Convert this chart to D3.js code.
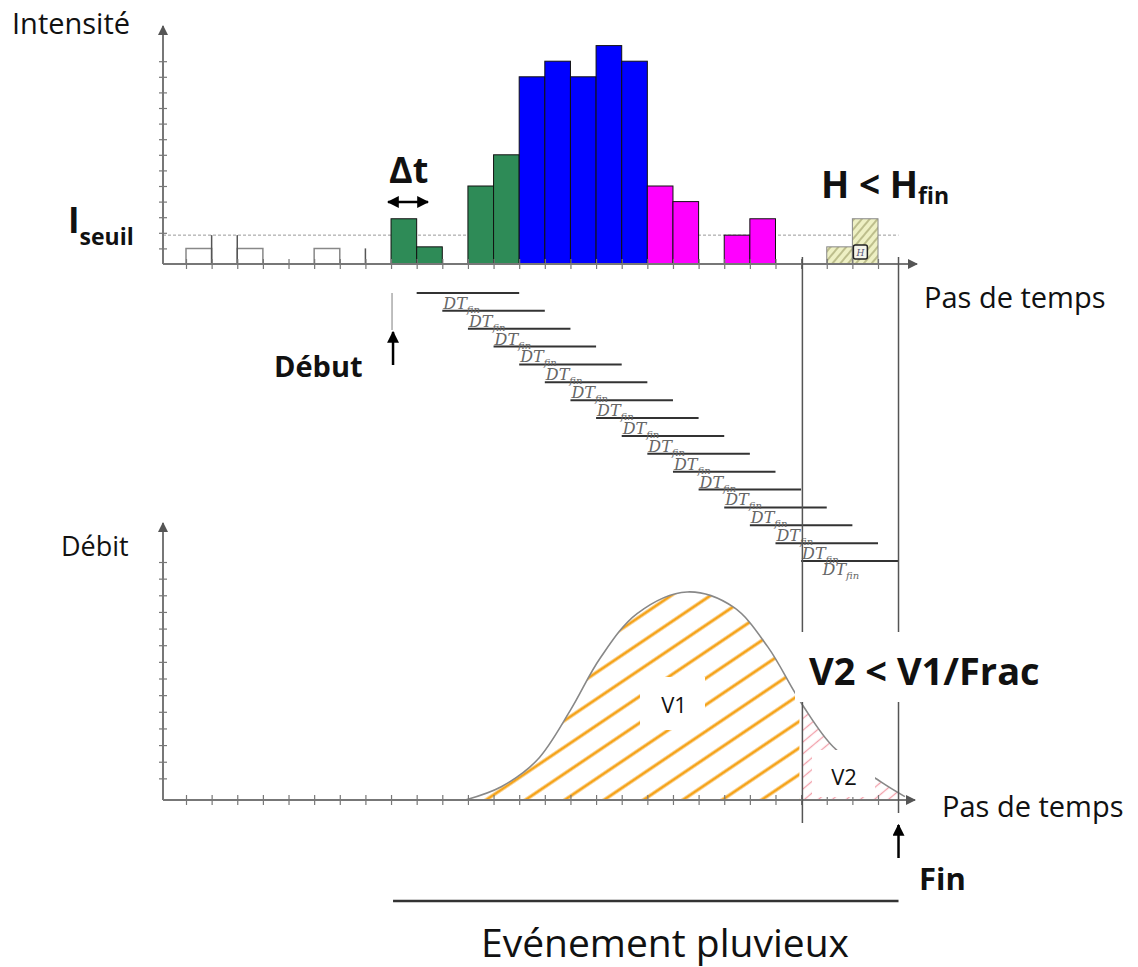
<!DOCTYPE html>
<html><head><meta charset="utf-8">
<script src="https://cdn.jsdelivr.net/npm/d3@7"></script>
<style>body{margin:0;background:#fff} text{font-family:"Open Sans",sans-serif}</style>
</head><body><svg id="c" width="1138" height="967"></svg>
<script>
// ---------- data ----------
const rainSteps  = [8, 9, 11, 12, 13, 14, 15, 16, 17, 18, 19, 21, 22];
const rainValues = [2.9, 1.1, 5, 7, 12, 13, 12, 14, 13, 5, 4, 1.85, 2.9];
const rainPhase  = ["start","start","start","start","core","core","core","core","core","tail","tail","tail","tail"];
const endSteps   = [25, 26];
const endValues  = [1.1, 2.9];
const drySteps   = [0, 2, 5];
const dryValues  = [1, 1, 1];
const dryMarkSteps  = [1, 2, 7];
const dryMarkValues = [1.85, 1.85, 1];
const threshold  = 1.85;
const axisTicks  = [0,1,2,3,4,5,6,7,8,9,10,11,12,13,14,15,16,17,18,19,20,21,22,23,24,25,26,27];
const yTicksTop  = [1,2,3,4,5,6,7,8,9,10,11,12,13];
const yTicksBottom = [1.3,2.3,3.3,4.3,5.3,6.3,7.3,8.3,9.3,10.3,11.3,12.3,13.3,14.3];
const dtStarts   = [9,10,11,12,13,14,15,16,17,18,19,20,21,22,23,24];
const dtEnds     = [13,14,15,16,17,18,19,20,21,22,23,24,25,26,27,27.8];
const dtLabelSteps = [10,11,12,13,14,15,16,17,18,19,20,21,22,23,24,24.8];
const dtLabelRows  = [1,2,3,4,5,6,7,8,9,10,11,12,13,14,15,15.9];
const flowSteps  = [10.9, 12.3, 13.7, 15.0, 16.15, 17.6, 19.55, 21.35, 22.7, 23.7, 24.1, 25.25, 27.1, 28.05];
const flowValues = [0, 0.8, 2.4, 5.4, 8.5, 11.2, 12.5, 11.6, 9.2, 6.6, 5.6, 3.2, 1.1, 0.2];
const debutStep = 8, finStep = 27.8, splitStep = 24.05;
const phaseColor = {start:"#2e8b57", core:"#0000ff", tail:"#ff00ff"};

// ---------- scales ----------
const svg = d3.select("#c");
const xS = d3.scaleLinear().domain([0, 28]).range([186, 186 + 25.63*28]);
const yT = d3.scaleLinear().domain([0, 14]).range([264, 45.6]);
const yB = d3.scaleLinear().domain([0, 14]).range([800, 567]);
const yDT = d3.scaleLinear().domain([0, 15]).range([293, 561]);
const axisX0 = 163, axisX1 = 912;
const grey = "#777";

// ---------- defs ----------
const defs = svg.append("defs");
function arrowMarker(id, color, size){
  defs.append("marker").attr("id", id).attr("viewBox","0 0 10 10").attr("refX",9).attr("refY",5)
    .attr("markerWidth",size).attr("markerHeight",size).attr("orient","auto-start-reverse")
    .attr("markerUnits","userSpaceOnUse")
    .append("path").attr("d","M0,0 L10,5 L0,10 z").attr("fill",color);
}
arrowMarker("ag", "#555", 10);
arrowMarker("ab", "#000", 12);
const po = defs.append("pattern").attr("id","hatchO").attr("patternUnits","userSpaceOnUse")
  .attr("width",10).attr("height",22).attr("patternTransform","rotate(-34)");
po.append("line").attr("x1",0).attr("x2",10).attr("y1",11).attr("y2",11).attr("stroke","#f5a31a").attr("stroke-width",3);
const pp = defs.append("pattern").attr("id","hatchP").attr("patternUnits","userSpaceOnUse")
  .attr("width",10).attr("height",9).attr("patternTransform","rotate(-40)");
pp.append("line").attr("x1",0).attr("x2",10).attr("y1",4.5).attr("y2",4.5).attr("stroke","#f2a0aa").attr("stroke-width",1.3);
const py = defs.append("pattern").attr("id","hatchY").attr("patternUnits","userSpaceOnUse")
  .attr("width",6).attr("height",6).attr("patternTransform","rotate(-50)");
py.append("rect").attr("width",6).attr("height",6).attr("fill","#eef0c4");
py.append("line").attr("x1",0).attr("x2",6).attr("y1",3).attr("y2",3).attr("stroke","#a3a36e").attr("stroke-width",1.3);

// ---------- TOP CHART ----------
const gTop = svg.append("g");
gTop.append("line").attr("x1",axisX0).attr("x2",xS(finStep)).attr("y1",yT(threshold)).attr("y2",yT(threshold))
  .attr("stroke","#999").attr("stroke-width",1).attr("stroke-dasharray","3,2");
gTop.selectAll(".dry").data(drySteps).join("path")
  .attr("d",(d,i)=>`M${xS(d)},${yT(0)}V${yT(dryValues[i])}H${xS(d+1)}V${yT(0)}`)
  .attr("fill","none").attr("stroke","#888").attr("stroke-width",1.5);
gTop.selectAll(".drym").data(dryMarkSteps).join("line")
  .attr("x1",d=>xS(d)).attr("x2",d=>xS(d)).attr("y1",yT(0)).attr("y2",(d,i)=>yT(dryMarkValues[i]))
  .attr("stroke","#555").attr("stroke-width",1.5);
gTop.selectAll(".bar").data(rainSteps).join("rect")
  .attr("x",d=>xS(d)).attr("width",d=>xS(d+1)-xS(d))
  .attr("y",(d,i)=>yT(rainValues[i])).attr("height",(d,i)=>yT(0)-yT(rainValues[i]))
  .attr("fill",(d,i)=>phaseColor[rainPhase[i]]).attr("stroke","#111").attr("stroke-width",1);
gTop.selectAll(".endbar").data(endSteps).join("rect")
  .attr("x",d=>xS(d)).attr("width",d=>xS(d+1)-xS(d))
  .attr("y",(d,i)=>yT(endValues[i])).attr("height",(d,i)=>yT(0)-yT(endValues[i]))
  .attr("fill","url(#hatchY)").attr("stroke","#888").attr("stroke-width",1);
gTop.append("rect").attr("x",xS(26)+1).attr("y",245).attr("width",14).attr("height",14).attr("rx",2)
  .attr("fill","#f4f4ea").attr("stroke","#222").attr("stroke-width",1.5);
gTop.append("text").attr("x",xS(26)+8).attr("y",256).attr("text-anchor","middle").attr("font-size",9)
  .attr("font-style","italic").attr("fill","#557").style("font-family","DejaVu Serif").text("H");
const axT = gTop.append("g").attr("transform",`translate(0,${yT(0)})`)
  .call(d3.axisBottom(xS).tickValues(axisTicks).tickSize(5).tickSizeOuter(0).tickFormat(""));
axT.select(".domain").remove();
axT.selectAll(".tick line").attr("y1",-5).attr("stroke",grey).attr("stroke-width",1.2);
gTop.append("line").attr("x1",axisX0).attr("x2",axisX1+5).attr("y1",yT(0)).attr("y2",yT(0))
  .attr("stroke",grey).attr("stroke-width",2).attr("marker-end","url(#ag)");
const ayT = gTop.append("g").attr("transform",`translate(${axisX0},0)`)
  .call(d3.axisLeft(yT).tickValues(yTicksTop).tickSize(4).tickSizeOuter(0).tickFormat(""));
ayT.select(".domain").remove();
ayT.selectAll(".tick line").attr("x1",4).attr("stroke",grey).attr("stroke-width",1.2);
gTop.append("line").attr("x1",axisX0).attr("x2",axisX0).attr("y1",yT(0)).attr("y2",26)
  .attr("stroke",grey).attr("stroke-width",2).attr("marker-end","url(#ag)");

// ---------- DT_fin staircase ----------
const gDt = svg.append("g");
gDt.selectAll(".dtl").data(dtStarts).join("line")
  .attr("x1",d=>xS(d)).attr("x2",(d,i)=>xS(dtEnds[i])).attr("y1",(d,i)=>yDT(i)).attr("y2",(d,i)=>yDT(i))
  .attr("stroke","#333").attr("stroke-width",2);
const dtLab = gDt.selectAll(".dtt").data(dtLabelSteps).join("text")
  .attr("x",d=>xS(d)+1).attr("y",(d,i)=>yDT(dtLabelRows[i])-2)
  .attr("fill","#666").attr("font-style","italic").style("font-family","DejaVu Serif");
dtLab.append("tspan").attr("font-size",16).text("DT");
dtLab.append("tspan").attr("font-size",10).attr("dy",4).text("fin");

// ---------- BOTTOM CHART ----------
const gBot = svg.append("g");
const flowPts = flowSteps.map((s,i)=>[xS(s), yB(flowValues[i])]);
const areaGen = d3.area().x(d=>d[0]).y0(yB(0)).y1(d=>d[1]).curve(d3.curveCatmullRom.alpha(0.5));
const lineGen = d3.line().x(d=>d[0]).y(d=>d[1]).curve(d3.curveCatmullRom.alpha(0.5));
defs.append("clipPath").attr("id","cV1").append("rect")
  .attr("x",xS(flowSteps[0])).attr("y",0).attr("width",xS(splitStep)-3-xS(flowSteps[0])).attr("height",yB(0));
defs.append("clipPath").attr("id","cV2").append("rect")
  .attr("x",xS(splitStep)).attr("y",0).attr("width",xS(finStep)-xS(splitStep)).attr("height",yB(0));
gBot.append("path").datum(flowPts).attr("d",areaGen).attr("fill","url(#hatchO)").attr("clip-path","url(#cV1)");
gBot.append("path").datum(flowPts).attr("d",areaGen).attr("fill","url(#hatchP)").attr("clip-path","url(#cV2)");
gBot.append("path").datum(flowPts).attr("d",lineGen).attr("fill","none").attr("stroke","#888").attr("stroke-width",1.6);
const axB = gBot.append("g").attr("transform",`translate(0,${yB(0)})`)
  .call(d3.axisBottom(xS).tickValues(axisTicks).tickSize(5).tickSizeOuter(0).tickFormat(""));
axB.select(".domain").remove();
axB.selectAll(".tick line").attr("y1",-5).attr("stroke",grey).attr("stroke-width",1.2);
gBot.append("line").attr("x1",axisX0).attr("x2",axisX1+3).attr("y1",yB(0)).attr("y2",yB(0))
  .attr("stroke",grey).attr("stroke-width",2).attr("marker-end","url(#ag)");
const ayB = gBot.append("g").attr("transform",`translate(${axisX0},0)`)
  .call(d3.axisLeft(yB).tickValues(yTicksBottom).tickSize(4).tickSizeOuter(0).tickFormat(""));
ayB.select(".domain").remove();
ayB.selectAll(".tick line").attr("x1",4).attr("stroke",grey).attr("stroke-width",1.2);
gBot.append("line").attr("x1",axisX0).attr("x2",axisX0).attr("y1",yB(0)).attr("y2",523)
  .attr("stroke",grey).attr("stroke-width",2).attr("marker-end","url(#ag)");

// ---------- vertical guide lines ----------
svg.append("line").attr("x1",xS(splitStep)).attr("x2",xS(splitStep)).attr("y1",257).attr("y2",823)
  .attr("stroke","#555").attr("stroke-width",1.5);
svg.append("line").attr("x1",xS(finStep)).attr("x2",xS(finStep)).attr("y1",257).attr("y2",813)
  .attr("stroke","#555").attr("stroke-width",1.5);

// white label boxes
svg.append("rect").attr("x",640).attr("y",677).attr("width",65).attr("height",53).attr("fill","#fff");
svg.append("rect").attr("x",812).attr("y",750).attr("width",63).attr("height",47).attr("fill","#fff");
svg.append("rect").attr("x",795).attr("y",632).attr("width",255).attr("height",70).attr("fill","#fff");
svg.append("text").attr("x",674).attr("y",713).attr("text-anchor","middle").attr("font-size",22).attr("fill","#111").text("V1");
svg.append("text").attr("x",844).attr("y",785).attr("text-anchor","middle").attr("font-size",22).attr("fill","#111").text("V2");

// ---------- arrows & event line ----------
svg.append("line").attr("x1",xS(debutStep)+1).attr("x2",xS(debutStep)+1).attr("y1",293).attr("y2",330)
  .attr("stroke","#aaa").attr("stroke-width",1.5);
svg.append("line").attr("x1",xS(debutStep)+2).attr("x2",xS(debutStep)+2).attr("y1",365).attr("y2",332)
  .attr("stroke","#000").attr("stroke-width",2.5).attr("marker-end","url(#ab)");
svg.append("line").attr("x1",xS(finStep)).attr("x2",xS(finStep)).attr("y1",858).attr("y2",825)
  .attr("stroke","#000").attr("stroke-width",2.5).attr("marker-end","url(#ab)");
svg.append("line").attr("x1",xS(debutStep)+2).attr("x2",xS(finStep)).attr("y1",901).attr("y2",901)
  .attr("stroke","#333").attr("stroke-width",2.5);
svg.append("line").attr("x1",388).attr("x2",428).attr("y1",202).attr("y2",202)
  .attr("stroke","#000").attr("stroke-width",2.5).attr("marker-start","url(#ab)").attr("marker-end","url(#ab)");

// ---------- texts ----------
function txt(x,y,s,size,weight){ return svg.append("text").attr("x",x).attr("y",y).attr("font-size",size)
  .attr("font-weight",weight||400).attr("fill","#111").text(s); }
txt(12,34,"Intensité",29);
const ts = svg.append("text").attr("x",68).attr("y",233).attr("font-weight",700).attr("fill","#111");
ts.append("tspan").attr("font-size",35).text("I");
ts.append("tspan").attr("font-size",23).attr("dy",12).text("seuil");
txt(389,183,"Δt",36,700);
const th = svg.append("text").attr("x",821).attr("y",198).attr("font-weight",700).attr("fill","#111");
th.append("tspan").attr("font-size",37).text("H < H");
th.append("tspan").attr("font-size",23).attr("dy",6).text("fin");
txt(924,308,"Pas de temps",29);
txt(274,377,"Début",29,700);
txt(61,556,"Débit",27);
txt(809,685,"V2 < V1/Frac",38,700);
txt(942,817,"Pas de temps",29);
txt(919,890,"Fin",31,700);
txt(481,957,"Evénement pluvieux",39);
</script></body></html>
